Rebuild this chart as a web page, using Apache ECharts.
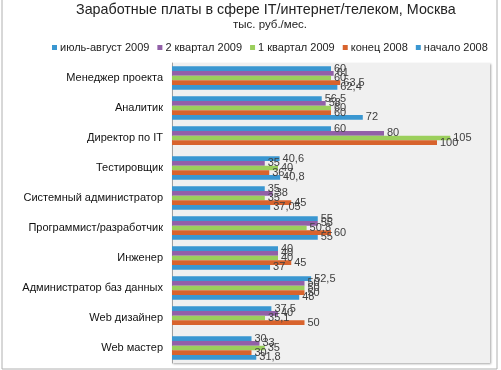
<!DOCTYPE html>
<html><head><meta charset="utf-8">
<script src="https://cdn.jsdelivr.net/npm/echarts@6/dist/echarts.min.js"></script>
<style>html,body{margin:0;padding:0;background:#fff}#c{width:501px;height:370px}</style>
</head><body><div id="c"></div>
<script>
const categories = ['Менеджер проекта','Аналитик','Директор по IT','Тестировщик','Системный администратор','Программист/разработчик','Инженер','Администратор баз данных','Web дизайнер','Web мастер'];
const seriesNames = ['июль-август 2009','2 квартал 2009','1 квартал 2009','конец 2008','начало 2008'];
const julAug2009 = [60, 56.5, 60, 40.6, 35, 55, 40, 52.5, 37.5, 30];
const q2_2009 = [61, 58, 80, 35, 38, 55, 40, 50, 40, 33];
const q1_2009 = [60, 60, 105, 40, 35, 50.8, 40, 50, 35.1, 35];
const end2008 = [63.5, 60, 100, 36.7, 45, 60, 45, 50, 50, 30];
const start2008 = [62.4, 72, null, 40.8, 37.05, 55, 37, 48, null, 31.8];
const colors = ['#3a97d1','#9260a8','#9bcf5c','#d8632d','#3a97d1'];
const seriesData = [julAug2009, q2_2009, q1_2009, end2008, start2008];

const chart = echarts.init(document.getElementById('c'), null, {renderer:'canvas'});
const font = 'Liberation Sans, Arial, sans-serif';
chart.setOption({
  animation:false,
  backgroundColor:'#fff',
  textStyle:{fontFamily:font},
  title:[
    {text:'Заработные платы в сфере IT/интернет/телеком, Москва', left:76, top:3, padding:0,
     textStyle:{fontSize:14.3, fontWeight:'normal', color:'#222', fontFamily:font}},
    {text:'тыс. руб./мес.', left:233, top:19, padding:0,
     textStyle:{fontSize:11.5, fontWeight:'normal', color:'#222', fontFamily:font}}
  ],
  legend:{left:47, top:37, icon:'rect', itemWidth:5, itemHeight:5, itemGap:8,
    textStyle:{fontSize:11, color:'#222', padding:[0,0,0,-2], fontFamily:font},
    data:seriesNames},
  grid:{left:172, top:63, right:11, bottom:7, show:true, backgroundColor:'#f0f0f0', borderWidth:0,
    shadowColor:'rgba(0,0,0,0.35)', shadowBlur:2, shadowOffsetX:1, shadowOffsetY:1},
  xAxis:{type:'value', min:0, max:120, show:false},
  yAxis:{type:'category', data:categories, inverse:true,
    axisLine:{show:true, lineStyle:{color:'#a0a0a0'}}, axisTick:{show:false},
    axisLabel:{fontSize:11, color:'#111', margin:9, fontFamily:font}},
  series: seriesNames.map((n,i)=>({
    name:n, type:'bar', data:seriesData[i], barWidth:4.7, barGap:'0%', barCategoryGap:'22%',
    itemStyle:{color:colors[i]},
    label:{show:true, position:'right', distance:3, fontSize:11, color:'#404040', fontFamily:font,
      formatter:p=>String(p.value).replace('.',',')}
  })),
  graphic:[{type:'rect', shape:{x:2, y:-2, width:495, height:371}, style:{fill:'none', stroke:'#b0b0b0', lineWidth:1}, silent:true}]
});
</script></body></html>
